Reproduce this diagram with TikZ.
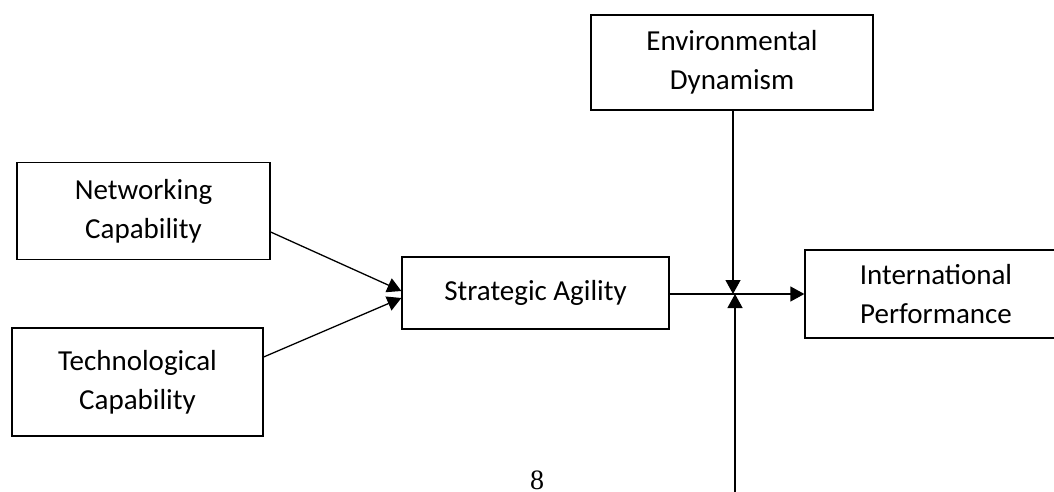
\documentclass[tikz,border=0pt]{standalone}
\usepackage{fontspec}
\setmainfont{Carlito}
\newfontfamily\timesf{Liberation Serif}
\usetikzlibrary{arrows.meta}
\begin{document}
\begin{tikzpicture}[x=1pt,y=-1pt,
  box/.style={draw=black, line width=1.3pt, inner sep=0pt, align=center,
    font=\fontsize{29}{39}\selectfont},
  conn/.style={line width=1.3pt, -{Triangle[length=14pt,width=15pt]}},
  plain/.style={line width=1.3pt}]
\useasboundingbox (0,0) rectangle (1054,492);
\clip (0,0) rectangle (1054,492);
\node[box, minimum width=282pt, minimum height=95pt] (env) at (732,62.5) {Environmental\\Dynamism};
\node[box, minimum width=253pt, minimum height=97pt] (net) at (143.5,211) {Networking\\Capability};
\node[box, minimum width=251pt, minimum height=108pt] (tech) at (137.5,382) {Technological\\Capability};
\node[box, minimum width=267pt, minimum height=72pt] (sa) at (535.5,293) {Strategic Agility};
\node[box, minimum width=262pt, minimum height=88pt] (ip) at (936,294) {International\\Performance};
\node[font=\timesf\fontsize{28}{28}\selectfont, anchor=base, inner sep=0pt] (pg) at (537,489) {8};
\coordinate (netout) at (net.east |- 0,232);
\coordinate (techout) at (tech.east |- 0,357);
\coordinate (sain1) at (sa.west |- 0,291);
\coordinate (sain2) at (sa.west |- 0,298);
\coordinate (mid) at (733,294);
\coordinate (midb) at (735,294);
\coordinate (bot) at (735,500);
\coordinate (saout) at (sa.east |- 0,294);
\coordinate (ipin) at (ip.west |- 0,294);
\coordinate (envout) at (env.south -| 733,0);
\draw[conn] (netout) -- (sain1);
\draw[conn] (techout) -- (sain2);
\draw[conn] (saout) -- (ipin);
\draw[conn] (envout) -- (mid);
\draw[conn] (bot) -- (midb);
\end{tikzpicture}
\end{document}
